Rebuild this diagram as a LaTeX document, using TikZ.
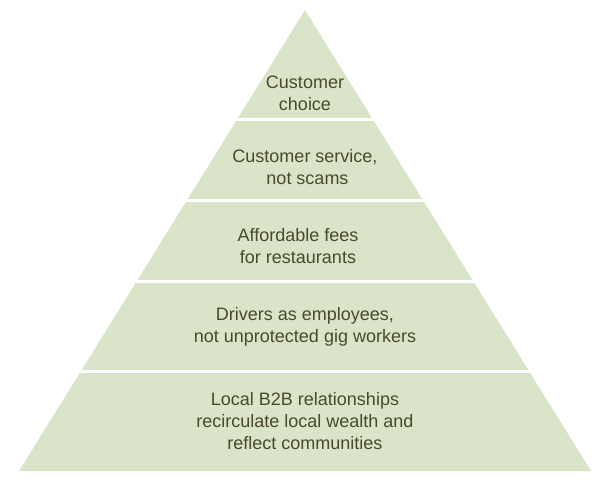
\documentclass[tikz,border=0pt]{standalone}
\usepackage{fontspec}
\setmainfont{Liberation Sans}
\definecolor{fillg}{HTML}{D9E4C9}
\definecolor{txt}{HTML}{4A4A2A}
\begin{document}
\begin{tikzpicture}[x=1pt,y=-1pt,
  lbl/.style={text=txt, font=\fontsize{18}{22}\selectfont, align=center, inner sep=0pt},
  gapline/.style={white, line width=2.6pt}]
\useasboundingbox (0,0) rectangle (600,501);
\coordinate (apex) at (305,10);
\coordinate (bl) at (19,471);
\coordinate (br) at (591,471);
\fill[fillg] (apex) -- (br) -- (bl) -- cycle;
\foreach \y in {119.5,200.5,281.5,371.5}
  \draw[gapline] (0,\y) -- (600,\y);
\node[lbl] (l1) at (305,93.5) {Customer\\choice};
\node[lbl] (l2) at (305,167.5) {Customer service,\\\hspace*{5pt}not scams};
\node[lbl] (l3) at (298,246.5) {Affordable fees\\for restaurants};
\node[lbl] (l4) at (305,326.5) {Drivers as employees,\\not unprotected gig workers};
\node[lbl] (l5) at (305,421.5) {Local B2B relationships\\recirculate local wealth and\\reflect communities};
\end{tikzpicture}
\end{document}
